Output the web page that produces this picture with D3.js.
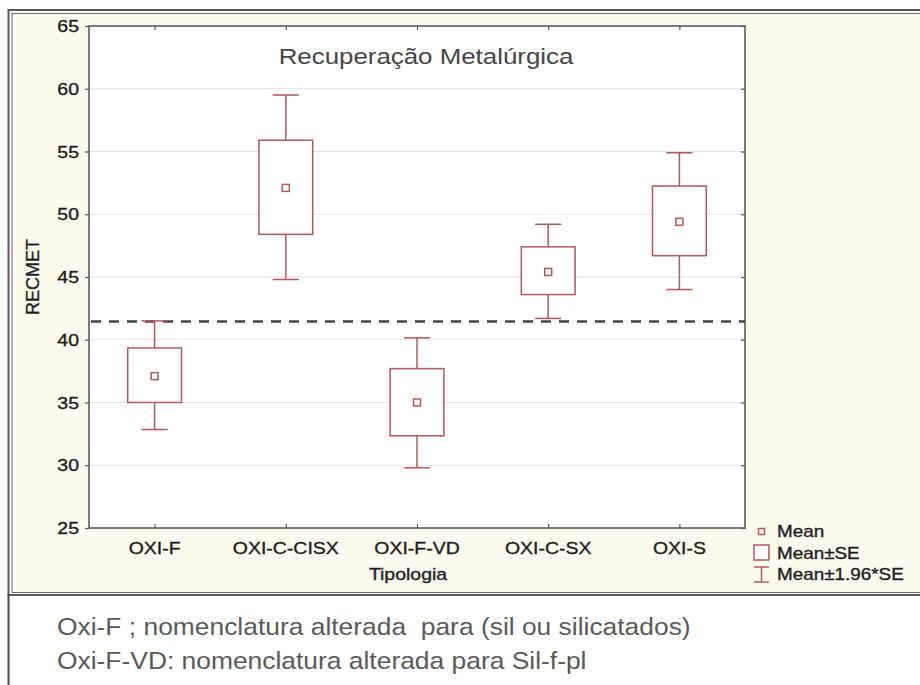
<!DOCTYPE html>
<html>
<head>
<meta charset="utf-8">
<script src="https://cdn.jsdelivr.net/npm/d3@7"></script>
<style>
  html, body { margin: 0; padding: 0; background: #ffffff; }
  svg { display: block; }
  text { font-family: "Liberation Sans", Arial, sans-serif; white-space: pre; }
</style>
</head>
<body>
<svg id="chart" width="920" height="685"></svg>
<script>
// ---- data ----
const categories = ["OXI-F", "OXI-C-CISX", "OXI-F-VD", "OXI-C-SX", "OXI-S"];
const means      = [37.1, 52.1, 35.0, 45.4, 49.4];
const seLow      = [35.0, 48.4, 32.35, 43.6, 46.7];
const seHigh     = [39.35, 55.9, 37.7, 47.4, 52.25];
const ciLow      = [32.85, 44.8, 29.8, 41.7, 44.0];
const ciHigh     = [41.5, 59.5, 40.15, 49.2, 54.9];
const refValue   = 41.45;
const yTicks     = [25, 30, 35, 40, 45, 50, 55, 60, 65];
const titleText  = "Recuperação Metalúrgica";
const yLabel     = "RECMET";
const xLabel     = "Tipologia";
const legendLabels = ["Mean", "Mean±SE", "Mean±1.96*SE"];
const notes = ["Oxi-F ; nomenclatura alterada  para (sil ou silicatados)",
               "Oxi-F-VD: nomenclatura alterada para Sil-f-pl"];

const rows = categories.map((c, i) => ({
  cat: c, mean: means[i], seLow: seLow[i], seHigh: seHigh[i], ciLow: ciLow[i], ciHigh: ciHigh[i]
}));

// ---- layout ----
const svg = d3.select("#chart");
const plot = { left: 89, top: 26, right: 745, bottom: 528 };
const red = "#b55858";
const sx = 1.18;

// frame background (cream)
svg.append("rect").attr("x", 12).attr("y", 14).attr("width", 920).attr("height", 579)
  .attr("fill", "#fffaf0");
// double border
svg.append("rect").attr("x", 8.5).attr("y", 10).attr("width", 930).attr("height", 585)
  .attr("fill", "none").attr("stroke", "#5a5a5a").attr("stroke-width", 2);
svg.append("rect").attr("x", 12).attr("y", 13.5).attr("width", 930).attr("height", 579)
  .attr("fill", "none").attr("stroke", "#6a6a6a").attr("stroke-width", 1);
// left slide line continuing down
svg.append("line").attr("x1", 8.5).attr("x2", 8.5).attr("y1", 594).attr("y2", 685)
  .attr("stroke", "#4a4a4a").attr("stroke-width", 2);

// scales
const x = d3.scalePoint().domain(categories).range([plot.left, plot.right]).padding(0.5);
const y = d3.scaleLinear().domain([25, 65]).range([plot.bottom, plot.top]);
const step = x.step();

// plot background
svg.append("rect").attr("x", plot.left).attr("y", plot.top)
  .attr("width", plot.right - plot.left).attr("height", plot.bottom - plot.top)
  .attr("fill", "#ffffff");

// gridlines
svg.append("g").selectAll("line").data(yTicks.filter(t => t > 25 && t < 65)).join("line")
  .attr("x1", plot.left).attr("x2", plot.right)
  .attr("y1", d => y(d)).attr("y2", d => y(d))
  .attr("stroke", "#e3e3e3").attr("stroke-width", 1.2);

// axes (tick marks on all four sides)
const axL = svg.append("g").attr("transform", `translate(${plot.left},0)`)
  .call(d3.axisLeft(y).tickValues(yTicks).tickSize(4).tickFormat(""));
const axR = svg.append("g").attr("transform", `translate(${plot.right},0)`)
  .call(d3.axisLeft(y).tickValues(yTicks).tickSize(4).tickFormat(""));
const axB = svg.append("g").attr("transform", `translate(0,${plot.bottom})`)
  .call(d3.axisTop(x).tickSize(4).tickFormat(""));
const axT = svg.append("g").attr("transform", `translate(0,${plot.top})`)
  .call(d3.axisBottom(x).tickSize(4).tickFormat(""));
[axL, axR, axB, axT].forEach(g => {
  g.select(".domain").remove();
  g.selectAll("line").attr("stroke", "#555").attr("stroke-width", 1.2);
});

// plot border
svg.append("rect").attr("x", plot.left).attr("y", plot.top)
  .attr("width", plot.right - plot.left).attr("height", plot.bottom - plot.top)
  .attr("fill", "none").attr("stroke", "#5a5a5a").attr("stroke-width", 1.6);

// helper for horizontally stretched text
function stext(g, tx, ty, str, size, anchor, fill) {
  const f = fill || "#1e1e1e";
  return g.append("text")
    .attr("transform", `translate(${tx},${ty}) scale(${sx},1)`)
    .attr("text-anchor", anchor)
    .attr("font-size", size)
    .attr("fill", f)
    .attr("stroke", f).attr("stroke-width", 0.35)
    .text(str);
}

// y tick labels
const labels = svg.append("g");
yTicks.forEach(t => stext(labels, 79, y(t) + 6, String(t), 16.5, "end"));
// x tick labels
categories.forEach(c => stext(labels, x(c), 553.5, c, 16.5, "middle"));
// axis titles
stext(labels, (plot.left + plot.right) / 2 - 9, 580, xLabel, 16.5, "middle");
labels.append("text")
  .attr("transform", `translate(38.5,${(plot.top + plot.bottom) / 2}) rotate(-90)`)
  .attr("text-anchor", "middle").attr("font-size", 18).attr("fill", "#1e1e1e")
  .attr("stroke", "#1e1e1e").attr("stroke-width", 0.35)
  .text(yLabel);
// title
svg.append("text")
  .attr("transform", `translate(${(plot.left + plot.right) / 2 + 9},64) scale(1.15,1)`)
  .attr("text-anchor", "middle").attr("font-size", 22.5).attr("fill", "#454545")
  .text(titleText);

// reference dashed line
svg.append("line")
  .attr("x1", plot.left + 2).attr("x2", plot.right)
  .attr("y1", y(refValue)).attr("y2", y(refValue))
  .attr("stroke", "#444").attr("stroke-width", 2.4)
  .attr("stroke-dasharray", "10,8");

// box plots
const boxW = step * 0.41;
const capW = step * 0.2;
const g = svg.append("g").attr("stroke", red).attr("stroke-width", 1.5).attr("fill", "none");
const items = g.selectAll("g").data(rows).join("g");
items.append("line")
  .attr("x1", d => x(d.cat)).attr("x2", d => x(d.cat))
  .attr("y1", d => y(d.ciHigh)).attr("y2", d => y(d.seHigh));
items.append("line")
  .attr("x1", d => x(d.cat)).attr("x2", d => x(d.cat))
  .attr("y1", d => y(d.seLow)).attr("y2", d => y(d.ciLow));
items.append("line")
  .attr("x1", d => x(d.cat) - capW / 2).attr("x2", d => x(d.cat) + capW / 2)
  .attr("y1", d => y(d.ciHigh)).attr("y2", d => y(d.ciHigh));
items.append("line")
  .attr("x1", d => x(d.cat) - capW / 2).attr("x2", d => x(d.cat) + capW / 2)
  .attr("y1", d => y(d.ciLow)).attr("y2", d => y(d.ciLow));
items.append("rect")
  .attr("x", d => x(d.cat) - boxW / 2).attr("width", boxW)
  .attr("y", d => y(d.seHigh)).attr("height", d => y(d.seLow) - y(d.seHigh))
  .attr("fill", "#ffffff");
items.append("rect")
  .attr("x", d => x(d.cat) - 3.5).attr("width", 7)
  .attr("y", d => y(d.mean) - 3.5).attr("height", 7)
  .attr("fill", "#ffffff");

// legend
const lg = svg.append("g");
lg.append("rect").attr("x", 758.5).attr("y", 528.5).attr("width", 6).attr("height", 6)
  .attr("fill", "#fff").attr("stroke", red).attr("stroke-width", 1.5);
lg.append("rect").attr("x", 754).attr("y", 545).attr("width", 15).attr("height", 15)
  .attr("fill", "#fff").attr("stroke", red).attr("stroke-width", 1.5);
lg.append("line").attr("x1", 761.5).attr("x2", 761.5).attr("y1", 567).attr("y2", 582)
  .attr("stroke", red).attr("stroke-width", 1.5);
lg.append("line").attr("x1", 754).attr("x2", 769).attr("y1", 567).attr("y2", 567)
  .attr("stroke", red).attr("stroke-width", 1.5);
lg.append("line").attr("x1", 754).attr("x2", 769).attr("y1", 582).attr("y2", 582)
  .attr("stroke", red).attr("stroke-width", 1.5);
[537, 558.5, 580].forEach((yy, i) => stext(lg, 777, yy, legendLabels[i], 16, "start"));

// notes below
svg.append("g").selectAll("text").data(notes).join("text")
  .attr("transform", (d, i) => `translate(57,${635 + i * 34}) scale(1.1,1)`)
  .attr("font-size", 24).attr("fill", "#5a5a5a")
  .text(d => d);
</script>
</body>
</html>
